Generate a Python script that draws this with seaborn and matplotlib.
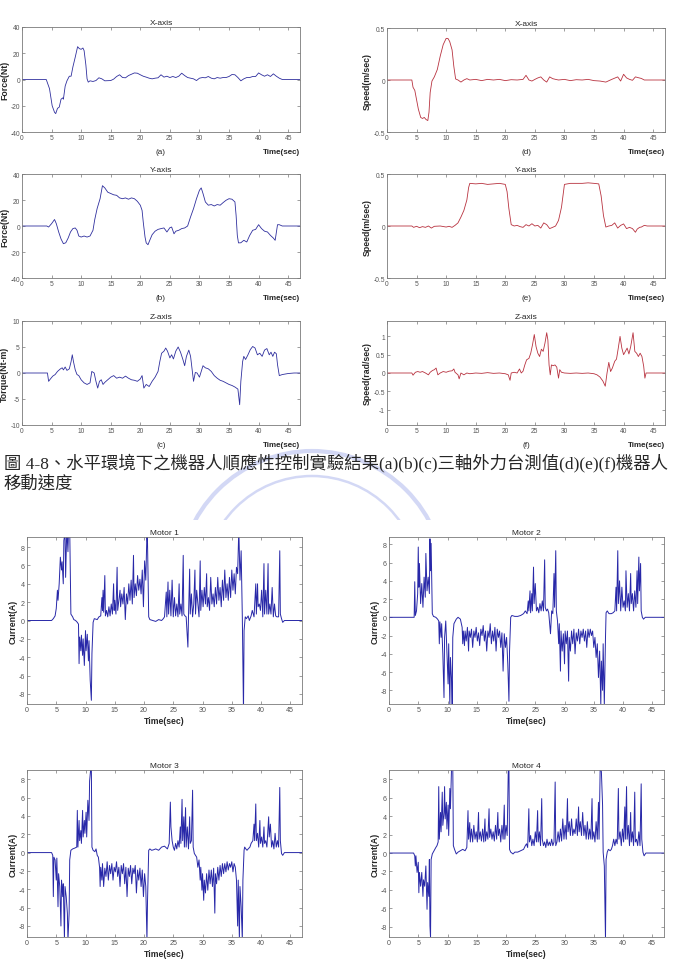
import pandas as pd
import seaborn as sns
import matplotlib.pyplot as plt
from matplotlib.patches import Circle, Rectangle

# ---- values: (time sec, value) ----
force_x = [(0,0),(4.1,0),(4.65,-7),(5.1,-20),(5.5,-25),(5.7,-26),(6.0,-22),(6.3,-21),(6.6,-15),(6.9,-14),(7.0,-15),
           (7.3,-5),(7.6,-1),(8.0,2.5),(8.3,2.5),(8.6,9.5),(9.0,17),(9.4,25),(9.7,23.5),(10.0,23),(10.3,24),(10.5,22),
           (10.8,11),(11.0,0.5),(11.2,-2),(11.5,-1),(12,-1.5),(12.5,-0.8),(13,1.3),(13.5,0.5),(14,-1),(15,-0.8),
           (15.5,0.3),(16,2.3),(16.5,3.6),(17,1.5),(17.5,1.3),(18,3),(18.5,4),(19,5),(19.5,4.8),(20,3.6),(20.5,2.5),
           (21,1.8),(21.5,1),(22,0.5),(22.5,1),(23,1.3),(23.5,3.6),(24,1.8),(24.5,2.5),(25,1.5),(25.5,2.3),(26,1.5),
           (26.5,2.5),(27,4.8),(27.5,3),(28,1.5),(28.5,1),(29,0.5),(29.5,-0.8),(30,1),(30.5,1.5),(31,1.3),(31.5,2.3),
           (32,1),(32.5,0.5),(33,1.5),(33.5,1),(34,1.5),(34.5,1.5),(35,2.3),(35.5,3.8),(36,3.6),(36.5,1.5),(37,-1),
           (37.5,0.5),(38,1.5),(38.5,1.5),(39,2.3),(39.5,2.3),(40,5),(40.5,3.6),(41,2.5),(41.5,3.6),(42,2.3),(42.5,4.3),
           (43,2.5),(43.5,1),(44,0),(47,0)]
force_y = [(0,0),(4.2,0),(4.5,-0.8),(5.0,1.8),(5.5,5),(5.8,1.8),(6.2,-4.6),(6.6,-10),(7.0,-13.6),(7.4,-12.9),(7.8,-9.3),
           (8.2,-4.6),(8.6,-2),(9.0,-1.5),(9.3,-3.3),(9.6,-7.7),(10,-8.5),(10.5,-7.7),(11,-8.5),(11.5,-7.7),(12,-3.3),
           (12.3,5),(12.7,13.4),(13.2,21),(13.6,31),(14,29.3),(14.5,26),(15,25),(15.5,24),(16,23.6),(16.5,21.6),(17,21),
           (17.5,21.6),(18,20.6),(18.5,21.6),(19,21),(19.5,19),(20,16),(20.3,12),(20.5,3),(20.8,-8.5),(21,-13),
           (21.3,-14.4),(21.6,-11),(22,-6.7),(22.5,-4),(23,-2.6),(23.5,-2),(24,-1.5),(24.5,-4.6),(25,-1.3),(25.3,-0.8),
           (25.7,-6),(26,-4),(26.5,-3.3),(27,-2),(27.5,-1.5),(28,0),(28.5,7),(29,13.4),(29.5,21),(30,27.5),(30.3,29.3),
           (30.6,25),(31,18.5),(31.5,16),(32,16.5),(32.5,15.4),(33,16.5),(33.5,16),(34,18),(34.5,19.8),(35,21),
           (35.5,20.6),(36,18.5),(36.2,8),(36.4,-7.2),(36.6,-13),(37,-12.9),(37.5,-11),(38,-12.3),(38.5,-7.2),(39,-3.3),
           (39.5,-2.6),(40,1),(40.5,-2),(41,-4),(41.5,-4.6),(42,-7.2),(42.5,-9.3),(42.8,-11),(43.2,1),(43.5,1),(44,0),(47,0)]
torque_z = [(0,0),(4.3,0),(4.5,-1.6),(4.8,-1.15),(5.2,-0.6),(5.6,-0.3),(6,0.3),(6.5,0.8),(6.8,1),(7,0.6),(7.3,1.15),
            (7.6,0.5),(8,0.8),(8.3,2.2),(8.5,3.5),(8.7,2.2),(9,0.6),(9.3,-0.3),(9.6,-0.5),(10,-1.3),(10.5,-1.9),(11,-2.2),
            (11.5,-1.9),(11.8,0.3),(12.2,0),(12.5,-1.6),(12.8,-2.9),(13.1,-1.6),(13.4,-1.3),(13.7,-2.2),(14,-1.8),
            (14.5,-1.3),(15,-0.8),(15.5,-0.5),(16,-1),(16.5,-0.8),(17,-1),(17.5,-0.6),(18,-1),(18.5,-1.3),(19,-1.4),
            (19.5,-1.6),(20,-1.15),(20.3,-0.5),(20.6,-2.9),(21,-2.2),(21.5,-2.6),(22,-1.6),(22.5,-0.8),(23,0.3),
            (23.3,2.2),(23.6,3.8),(24,4.2),(24.3,4.8),(24.6,4.2),(25,2.9),(25.3,3.5),(25.6,2.7),(26,4.2),(26.4,5),
            (26.8,4),(27.2,2.6),(27.5,1.4),(27.8,3.2),(28.2,4.4),(28.5,3.2),(28.8,0.3),(29,-1.6),(29.3,0.1),(29.6,0),
            (30,-0.8),(30.3,0.3),(30.6,1.4),(31,1),(31.5,0.8),(32,0.3),(32.5,-0.5),(33,-1),(33.5,-1.4),(34,-1.6),
            (34.5,-1.9),(35,-2.2),(35.5,-2.4),(36,-2.7),(36.5,-3.1),(36.8,-6.1),(37,-1.6),(37.3,2.2),(37.5,3.2),
            (37.8,2.6),(38.2,3.5),(38.6,4.5),(39,5.1),(39.4,4.8),(39.8,3.5),(40.2,3.8),(40.6,3.2),(41,4.4),(41.4,4.7),
            (41.8,3.5),(42.1,4),(42.4,3.2),(42.7,4),(43,3.7),(43.2,1.6),(43.5,-0.5),(44,-0.3),(45,-0.1),(46,0),(47,0)]
speed_x = [(0,0),(4.2,0),(4.4,-0.07),(4.7,-0.1),(5.0,-0.19),(5.3,-0.28),(5.7,-0.36),(6.0,-0.37),(6.3,-0.36),
           (6.6,-0.38),(6.9,-0.39),(7.1,-0.31),(7.3,-0.12),(7.6,-0.01),(8.0,0.03),(8.5,0.1),(9.0,0.23),(9.5,0.34),
           (10,0.4),(10.3,0.4),(10.6,0.37),(11.0,0.29),(11.3,0.13),(11.6,0.01),(12,0),(12.5,-0.02),(13,0),(13.5,0.013),
           (14,0),(15,0.006),(16,-0.006),(17,0.006),(18,0),(19,0.006),(20,-0.006),(21,0.003),(22,0),(23,0.006),
           (23.5,0.045),(24,0),(24.5,-0.01),(25,0.006),(25.5,0.02),(26,0.03),(26.5,0),(27,-0.02),(27.5,0.03),
           (28,0.013),(28.5,0.006),(29,0),(30,0.006),(31,-0.006),(32,0.003),(33,0),(34,0.006),(35,-0.006),(36,-0.01),
           (37,-0.02),(38,0.006),(39,0.03),(39.5,-0.01),(40,0.055),(40.5,0.02),(41,0.006),(41.5,-0.003),(42,0.03),
           (42.5,0.022),(43,0.015),(43.5,0),(47,0)]
speed_y = [(0,0),(4.2,0),(4.5,-0.013),(5,-0.003),(5.5,-0.016),(6,-0.006),(6.5,-0.013),(7,0),(7.5,-0.02),(8,-0.003),
           (9,0),(10,-0.01),(10.5,-0.003),(11,-0.013),(11.5,0.006),(12,0.03),(12.5,0.086),(13,0.15),(13.5,0.25),
           (13.8,0.37),(14,0.41),(15,0.405),(16,0.41),(17,0.4),(18,0.405),(19,0.41),(20,0.4),(20.3,0.33),(20.6,0.17),
           (21,0.013),(21.5,0),(22,0.006),(22.5,-0.006),(23,-0.013),(23.5,0.013),(24,0),(24.5,0.022),(25,0),
           (25.5,0.006),(26,-0.02),(26.5,0.03),(27,0.013),(27.5,-0.025),(28,-0.013),(28.5,0),(29,0.054),(29.5,0.18),
           (30,0.4),(31,0.41),(32,0.41),(33,0.41),(34,0.415),(35,0.41),(35.8,0.405),(36.2,0.29),(36.6,0.1),(37,-0.01),
           (37.5,0),(38,0.006),(38.5,0.03),(39,-0.02),(39.5,0.006),(40,0.02),(40.5,-0.025),(41,-0.013),(41.5,-0.025),
           (42,-0.06),(42.3,-0.03),(42.7,-0.013),(43,-0.01),(43.5,0.006),(44,0),(47,0)]
speed_z = [(0,0),(4.2,0),(4.4,-0.06),(4.8,0.02),(5.2,0.04),(5.6,0.02),(6,0.04),(6.5,0),(7,-0.05),(7.3,0.02),(7.7,0.07),
           (8,0.09),(8.3,0.135),(8.6,-0.05),(9,0),(9.5,0.04),(10,0.02),(10.5,0.05),(11,0.06),(11.3,0.11),(11.5,0.02),
           (12,-0.05),(12.2,-0.16),(12.5,0),(13,-0.05),(13.5,0),(14,-0.02),(15,0),(16,-0.01),(17,0.01),(18,-0.01),
           (19,0),(20,-0.02),(20.5,-0.05),(20.8,-0.2),(21,0),(21.5,0.02),(22,0),(22.4,0.11),(22.7,0),(23,0.05),
           (23.3,0.22),(23.6,0.36),(24,0.4),(24.3,0.54),(24.6,0.77),(24.9,1.05),(25.2,0.72),(25.5,0.54),(25.8,0.45),
           (26.1,0.65),(26.4,0.59),(26.7,0.81),(27,1.1),(27.2,0.9),(27.4,0.22),(27.6,-0.05),(27.8,0.22),(28.1,0.2),
           (28.4,0.22),(28.7,0.16),(29,-0.14),(29.2,0.09),(29.5,0.02),(30,0),(31,-0.01),(32,0),(33,-0.01),(34,0),
           (35,-0.02),(35.5,-0.05),(36,-0.11),(36.5,-0.22),(36.9,-0.36),(37.2,0),(37.5,0.29),(37.8,0.04),(38.1,0.135),
           (38.5,0.32),(38.8,0.38),(39.1,0.68),(39.4,1.0),(39.7,0.68),(40,0.5),(40.3,0.59),(40.6,0.68),(40.9,0.52),
           (41.2,0.72),(41.6,1.1),(41.9,0.59),(42.2,0.54),(42.5,0.45),(42.8,0.54),(43.1,0.45),(43.4,0.18),(43.6,-0.14),
           (43.8,0),(47,0)]
motor1 = [(0,0),(4.2,0),(4.5,0.2),(4.8,0.5),(5.0,1.3),(5.2,3.3),(5.3,2.2),(5.5,4),(5.7,6.9),(5.9,5.5),(6.0,6.4),(6.2,4),
          (6.3,8.7),(6.5,9.6),(6.6,4.7),(6.8,10),(7.0,7.5),(7.1,10),(7.3,10),(7.5,0.7),(7.8,0.4),(8.0,0.1),(8.3,0),
          (8.6,-0.2),(8.8,-0.4),(8.9,-4.7),(9.0,-1.8),(9.2,-3.3),(9.3,-1.6),(9.5,-3.8),(9.6,-2),(9.8,-4.9),(10.0,-1.1),
          (10.1,-3.3),(10.3,-1.5),(10.5,-4.4),(10.6,-2.2),(10.8,-6.5),(10.9,-7.6),(11.0,-8.7),(11.1,-3.6),(11.3,-0.2),
          (11.5,0.2),(12,0.1),(12.3,0.4),(12.6,0.5),(12.8,2.5),(12.9,1.1),(13.0,3.3),(13.1,0.9),(13.3,4.9),(13.4,0.5),
          (13.6,1.1),(13.8,0.4),(14.0,1.5),(14.2,0.5),(14.4,1.8),(14.6,0.7),(14.8,4),(14.9,1.1),(15.0,2.2),(15.2,0.7),
          (15.4,5.8),(15.5,1.1),(15.7,2.2),(15.9,3.3),(16.0,1.5),(16.2,2.9),(16.4,1.8),(16.6,3.6),(16.8,0.1),(17.0,2.9),
          (17.2,1.8),(17.4,4),(17.6,2.2),(17.8,4.4),(18.0,1.8),(18.2,7.1),(18.3,2.5),(18.5,4),(18.7,2.7),(18.9,4.9),
          (19.1,3.3),(19.3,4.5),(19.5,2.9),(19.7,5.5),(19.9,1.5),(20.1,6.5),(20.3,4.4),(20.5,9.5),(20.6,8.4),(20.8,0.4),
          (21,0.1),(21.5,0),(22,-0.1),(22.5,0.1),(23,0),(23.3,0.2),(23.5,0.4),(23.8,3.1),(23.9,0.4),(24.1,4.2),(24.2,0.7),
          (24.4,3.3),(24.6,0.5),(24.8,4.4),(25.0,0.4),(25.2,2.5),(25.4,0.5),(25.6,1.8),(25.8,0.4),(26.0,4),(26.1,0.7),
          (26.3,1.8),(26.5,0.5),(26.7,7.1),(26.8,0.7),(27,0.5),(27.2,0.4),(27.5,-2.9),(27.6,0.4),(27.8,5.6),(27.9,0.7),
          (28.1,2.9),(28.3,0.4),(28.5,1.8),(28.7,5.5),(28.8,0.7),(29.0,3.3),(29.2,1.8),(29.4,0.4),(29.6,6.5),(29.7,1.1),
          (29.9,3.3),(30.1,1.5),(30.3,3.6),(30.5,1.8),(30.7,5.1),(30.8,1.5),(31,2.5),(31.2,1.1),(31.4,4.7),(31.6,1.8),
          (31.8,2.9),(32,1.5),(32.2,3.6),(32.4,1.8),(32.6,4.7),(32.8,2.2),(33,3.6),(33.2,1.5),(33.4,4.4),(33.6,2.2),
          (33.8,5.5),(34,2.5),(34.2,4),(34.4,2.2),(34.6,4.7),(34.8,2.5),(35,5.5),(35.2,3.3),(35.4,5.1),(35.6,2.9),
          (35.8,5.8),(36,5.1),(36.2,10),(36.4,4.4),(36.6,7.6),(36.8,0.4),(37.0,-10),(37.1,-1.1),(37.3,0.4),(37.5,0.2),
          (37.8,0.5),(38,0),(38.3,0.5),(38.5,1.1),(38.8,0.4),(39.1,4),(39.2,0.7),(39.4,4),(39.5,1.5),(39.7,1.8),
          (39.9,1.1),(40.1,3.3),(40.3,0.4),(40.5,6.2),(40.6,0.7),(40.8,3.3),(41,0.7),(41.2,6.2),(41.3,0.7),(41.5,1.8),
          (41.7,0.7),(41.9,3.6),(42.1,0.4),(42.3,1.8),(42.5,0.5),(42.7,0.4),(43.0,0.4),(43.2,7.6),(43.3,0.7),(43.5,0.2),
          (43.7,-0.2),(44,0),(47,0)]
motor2 = [(0,0),(4.3,0),(4.4,3.9),(4.5,0.2),(4.7,0.7),(4.9,2.6),(5.0,7.7),(5.1,3.3),(5.2,5.9),(5.4,1.5),(5.6,3.7),
          (5.8,1.1),(6.0,4.4),(6.2,2.2),(6.3,7),(6.5,2.9),(6.7,4.4),(6.9,2.6),(7.0,8.6),(7.1,5.1),(7.2,8.1),(7.4,0.4),
          (7.6,0.1),(8,0),(8.3,-0.2),(8.5,-0.4),(8.6,-2.9),(8.7,-0.5),(8.9,-2.2),(9.0,-0.7),(9.2,-4),(9.4,-8.8),
          (9.5,-2.2),(9.7,-0.4),(9.9,-3.7),(10.1,-7.3),(10.2,-2.9),(10.4,-9.6),(10.5,-4.4),(10.7,-7),(10.8,-9.6),
          (10.9,-2.2),(11.1,-0.7),(11.5,-0.2),(11.8,0),(12.2,-0.2),(12.5,-1.1),(12.6,-2.9),(12.7,-1.5),(12.9,-3.1),
          (13.0,-1.5),(13.2,-2.6),(13.4,-1.1),(13.6,-3.7),(13.7,-1.5),(13.9,-2.2),(14.1,-1.3),(14.3,-3.3),(14.5,-1.5),
          (14.7,-2.2),(14.9,-1.1),(15.1,-2.6),(15.3,-1.7),(15.5,-3.1),(15.7,-1.3),(15.9,-2),(16.1,-0.9),(16.3,-2.6),
          (16.5,-1.5),(16.7,-3.7),(16.9,-1.5),(17.1,-2.2),(17.3,-0.7),(17.5,-2.9),(17.7,-1.5),(17.9,-2.6),(18.1,-1.1),
          (18.3,-3.7),(18.5,-1.3),(18.7,-2.2),(18.9,-1.5),(19.1,-3.3),(19.3,-1.7),(19.5,-5.9),(19.7,-1.8),(19.9,-3.3),
          (20.1,-2.2),(20.3,-5.1),(20.5,-9.2),(20.6,-3.7),(20.8,0),(21,0.2),(21.5,0.1),(22,0.1),(22.5,0.2),(23,0.4),
          (23.3,0.7),(23.6,0.4),(23.8,1.8),(23.9,0.7),(24.1,2.9),(24.2,0.5),(24.4,2.6),(24.5,0.7),(24.7,5.5),(24.8,1.5),
          (25.0,3.7),(25.2,0.7),(25.4,1.1),(25.6,0.5),(25.8,1.5),(26.0,0.7),(26.2,1.8),(26.4,0.7),(26.6,6.3),(26.7,1.1),
          (26.9,0.7),(27.1,0.9),(27.3,0.5),(27.6,-1.8),(27.8,0.7),(28.0,0.4),(28.2,4.8),(28.3,1.1),(28.5,7.3),(28.6,0.7),
          (28.8,-0.4),(29.0,-2.9),(29.1,-0.7),(29.3,-5.9),(29.4,-1.5),(29.6,-3.7),(29.8,-1.8),(30.0,-5.1),(30.1,-1.5),
          (30.3,-2.9),(30.5,-1.5),(30.7,-7),(30.8,-2.2),(31.0,-3.7),(31.2,-1.5),(31.4,-2.9),(31.6,-1.3),(31.8,-4),
          (32.0,-1.7),(32.2,-2.6),(32.4,-1.3),(32.6,-2.9),(32.8,-1.5),(33.0,-2.2),(33.2,-1.3),(33.4,-2.6),(33.6,-1.5),
          (33.8,-3.3),(34.0,-1.3),(34.2,-2.2),(34.4,-1.3),(34.6,-2),(34.8,-1.5),(35.0,-3.3),(35.2,-2.2),(35.4,-4.4),
          (35.6,-2.9),(35.8,-6.6),(36.0,-3.7),(36.2,-9.6),(36.3,-4.8),(36.5,-8),(36.6,-2.9),(36.8,-9.6),(37.0,-2.2),
          (37.1,0.5),(37.3,0.7),(37.6,0.4),(38,0.4),(38.3,0.5),(38.6,0.7),(38.8,3.3),(38.9,0.7),(39.1,7.3),(39.2,1.5),
          (39.4,4),(39.6,0.7),(39.8,3.3),(40.0,1.1),(40.2,1.8),(40.4,0.7),(40.5,5.1),(40.7,1.1),(40.9,2.6),(41.1,0.7),
          (41.3,4.8),(41.4,1.5),(41.6,2.6),(41.8,0.7),(42.0,2.9),(42.2,1.1),(42.4,5.1),(42.5,1.5),(42.7,6.6),(42.8,2.9),
          (43.0,5.9),(43.1,0.7),(43.3,0),(43.5,-0.2),(43.8,0),(47,0)]
motor3 = [(0,0),(4.2,0),(4.4,-0.3),(4.5,-4.8),(4.6,-0.5),(4.8,-0.8),(5.0,-3),(5.1,-0.6),(5.3,-5.9),(5.4,-2.3),(5.6,-3.7),
          (5.8,-8),(5.9,-3),(6.1,-4.8),(6.2,-3.4),(6.4,-9.5),(6.5,-3.7),(6.7,-4.8),(6.9,-6.6),(7.0,-9.5),(7.2,-6.6),
          (7.3,-0.8),(7.5,0.25),(7.8,0.4),(8.2,0.5),(8.5,0.6),(8.6,4.6),(8.7,0.6),(8.9,3.5),(9.0,1.3),(9.2,2.4),(9.3,1),
          (9.5,4.6),(9.6,1.7),(9.8,3.5),(9.9,2.1),(10.1,4.4),(10.2,1.7),(10.4,5.7),(10.6,3.5),(10.7,7.8),(10.9,9.2),
          (11.0,9.2),(11.1,0.6),(11.3,0.25),(11.6,0.1),(11.8,0.4),(12.0,-0.3),(12.2,-0.5),(12.4,-1.6),(12.5,-3.7),
          (12.6,-1.6),(12.8,-3),(12.9,-1.2),(13.1,-3.7),(13.3,-1.7),(13.5,-2.6),(13.7,-1),(13.9,-3),(14.1,-1.4),
          (14.3,-2.3),(14.5,-1.2),(14.7,-3),(14.9,-1.6),(15.1,-2.1),(15.3,-1),(15.5,-2.6),(15.7,-1.6),(15.9,-3.7),
          (16.1,-1.4),(16.3,-2.3),(16.5,-1.2),(16.7,-3.4),(16.9,-1.6),(17.1,-4.8),(17.3,-1.7),(17.5,-2.6),(17.7,-1.4),
          (17.9,-3.4),(18.1,-1.7),(18.3,-2.3),(18.5,-1.4),(18.7,-4.4),(18.9,-1.9),(19.1,-3),(19.3,-1.7),(19.5,-3.7),
          (19.7,-1.9),(19.9,-4.8),(20.1,-2.3),(20.3,-3.7),(20.5,-9.5),(20.6,-5.2),(20.8,0.25),(21.0,0.4),(21.3,0.25),
          (21.6,0.3),(22,0.4),(22.5,0.25),(23,0.6),(23.5,0.7),(24,0.4),(24.3,1),(24.5,5.5),(24.6,2.8),(24.8,1.3),
          (25.0,0.6),(25.2,0.25),(25.4,1),(25.6,0.4),(25.8,1.3),(26.0,0.6),(26.2,2.8),(26.3,1),(26.5,5.8),(26.6,1.3),
          (26.8,3.9),(26.9,0.6),(27.1,4.9),(27.2,0.6),(27.4,2.8),(27.6,0.4),(27.8,3.9),(27.9,1),(28.1,1.3),(28.3,6.8),
          (28.4,0.6),(28.6,-0.1),(28.8,-0.3),(29.0,-0.5),(29.2,-1.6),(29.4,-0.8),(29.6,-3),(29.7,-1.6),(29.9,-4.1),
          (30.0,-2.3),(30.2,-5.2),(30.3,-3),(30.5,-4.4),(30.7,-2.3),(30.9,-4.1),(31.1,-1.9),(31.3,-3.4),(31.5,-1.9),
          (31.7,-3.7),(31.9,-1.7),(32.1,-6.6),(32.2,-2.3),(32.4,-3.4),(32.6,-1.6),(32.8,-3),(33.0,-1.4),(33.2,-2.6),
          (33.4,-1.2),(33.6,-2.3),(33.8,-1.2),(34.0,-2.1),(34.2,-1),(34.4,-1.9),(34.6,-1.2),(34.8,-1.6),(35.0,-1),
          (35.2,-2.1),(35.4,-1.2),(35.6,-1.6),(35.8,-3),(36.0,-8),(36.1,-3),(36.3,-9.5),(36.4,-3.7),(36.6,-5.9),
          (36.8,-9.5),(36.9,-3),(37.1,0.25),(37.2,0.6),(37.4,0.4),(37.6,0.25),(37.8,0.4),(38.1,0.6),(38.3,1),(38.6,1.3),
          (38.8,3.1),(38.9,1.3),(39.1,5.3),(39.2,1.3),(39.4,2.1),(39.6,0.6),(39.8,3.5),(39.9,1),(40.1,1.7),(40.3,0.6),
          (40.5,2.8),(40.6,1),(40.8,1.3),(41.0,0.6),(41.3,3.9),(41.4,1.7),(41.6,3.1),(41.8,0.6),(42.0,1.3),(42.2,0.4),
          (42.4,2.1),(42.6,0.6),(42.8,1.3),(43.0,0.6),(43.2,7.1),(43.3,1.3),(43.5,-0.1),(43.7,-0.3),(44.0,0),(47,0)]
motor4 = [(0,0),(4.2,0),(4.4,-0.3),(4.5,-1.4),(4.6,-0.3),(4.8,-2.1),(5.0,-1),(5.1,-4.3),(5.2,-2.1),(5.4,-3.6),(5.6,-2.1),
          (5.8,-4.7),(5.9,-2.9),(6.1,-3.6),(6.3,-1.4),(6.5,-6.1),(6.6,-3.2),(6.8,-4.7),(6.9,-0.7),(7.0,-7.9),(7.1,-9.2),
          (7.2,-0.7),(7.4,-0.1),(7.7,0.25),(8.0,0.6),(8.2,0.8),(8.4,1.2),(8.5,7.2),(8.6,1.5),(8.8,4.4),(8.9,2.3),(9.1,6.6),
          (9.2,3),(9.4,4.4),(9.5,7.2),(9.6,3.7),(9.8,5.5),(9.9,2.6),(10.1,5.2),(10.2,1.9),(10.4,7),(10.5,4.8),(10.7,9.5),
          (10.9,9.5),(11.0,0.8),(11.2,0.4),(11.5,-0.1),(11.8,0.1),(12.2,0.25),(12.6,0.4),(13.0,0.25),(13.3,0.6),
          (13.5,4.6),(13.6,1.5),(13.8,3.3),(13.9,1.2),(14.1,2.6),(14.3,1.2),(14.5,3),(14.7,1.5),(14.9,2.3),(15.1,1.2),
          (15.3,4.4),(15.4,1.5),(15.6,2.3),(15.8,1.3),(16.0,2.6),(16.2,1.2),(16.4,3.7),(16.5,1.3),(16.7,2.3),(16.9,1.5),
          (17.1,4.8),(17.2,1.7),(17.4,2.6),(17.6,1.5),(17.8,2.3),(18.0,1.3),(18.2,3),(18.4,1.5),(18.6,4.4),(18.7,1.9),
          (18.9,2.6),(19.1,1.2),(19.3,3),(19.5,1.5),(19.7,5.2),(19.8,1.5),(20.0,3),(20.2,1.9),(20.4,9.5),(20.5,9.5),
          (20.6,0.4),(20.8,0.1),(21.2,-0.1),(21.5,0.1),(22,0.1),(22.5,0.25),(23,0.4),(23.3,0.8),(23.5,1),(23.7,0.6),
          (23.9,4.8),(24.0,1.2),(24.2,1.9),(24.4,0.8),(24.6,1.5),(24.8,0.8),(25.0,2.3),(25.2,1.2),(25.4,4.6),(25.5,1.2),
          (25.7,2.3),(25.9,0.8),(26.1,5.9),(26.2,1.5),(26.4,0.8),(26.6,1.2),(26.8,0.6),(27.0,1.5),(27.2,0.8),(27.4,1.2),
          (27.6,0.8),(27.8,1.5),(28.0,0.8),(28.2,1.2),(28.4,7.7),(28.5,0.8),(28.7,1.2),(28.9,2.3),(29.1,1.2),(29.3,2.6),
          (29.5,1.3),(29.7,3.7),(29.9,1.5),(30.1,3),(30.3,1.5),(30.5,5.9),(30.6,2.3),(30.8,3.4),(31.0,1.9),(31.2,3.7),
          (31.4,1.9),(31.6,2.6),(31.8,2.1),(32.0,3.7),(32.2,1.9),(32.4,5),(32.5,2.3),(32.7,3.4),(32.9,1.9),(33.1,4.4),
          (33.3,1.9),(33.5,3),(33.7,1.5),(33.9,3.4),(34.1,1.5),(34.3,2.6),(34.5,1.5),(34.7,5.9),(34.8,1.5),(35.0,2.3),
          (35.2,1.2),(35.4,3.4),(35.6,1.5),(35.8,5.5),(35.9,1.5),(36.1,9.5),(36.3,8.8),(36.5,5.2),(36.6,0.1),(36.8,-1.4),
          (37.0,-9.4),(37.1,-0.7),(37.3,0.1),(37.5,0.4),(37.8,0.25),(38,0.4),(38.2,0.8),(38.4,1.5),(38.6,0.8),(38.8,1.5),
          (39.0,1),(39.2,7),(39.3,1.5),(39.5,2.3),(39.7,0.8),(39.9,2.6),(40.1,1.2),(40.3,5),(40.4,1.5),(40.6,7.2),
          (40.7,1.5),(40.9,3),(41.1,0.8),(41.3,4.4),(41.4,1.2),(41.6,2.3),(41.8,0.8),(42.0,6.6),(42.1,1.2),(42.3,1.5),
          (42.5,0.8),(42.7,2.3),(42.9,0.8),(43.1,7.5),(43.2,1.5),(43.4,0.1),(43.6,-0.3),(43.9,0),(47,0)]

time_ticks = [0, 5, 10, 15, 20, 25, 30, 35, 40, 45]
force_ticks = [-40, -20, 0, 20, 40]
speed_ticks = [-0.5, 0, 0.5]
torque_ticks = [-10, -5, 0, 5, 10]
rot_ticks = [-1, -0.5, 0, 0.5, 1]
current_ticks = [-8, -6, -4, -2, 0, 2, 4, 6, 8]

caption1 = '圖 4-8、水平環境下之機器人順應性控制實驗結果(a)(b)(c)三軸外力台測值(d)(e)(f)機器人'
caption2 = '移動速度'

sns.set_style('white')
sns.set_style('ticks')
plt.rcParams['font.family'] = ['Liberation Sans', 'Noto Sans CJK TC']
plt.rcParams['axes.unicode_minus'] = False

blue = '#2f2f9e'
red = '#b8323f'
mblue = '#2828a8'

fig = plt.figure(figsize=(6.75, 9.78), dpi=100)

# faint school-logo watermark behind the caption (cut off by the motor plots)
clip = Rectangle((0, (978 - 521) / 100.), 6.75, 1.2, transform=fig.dpi_scale_trans, visible=False)
fig.add_artist(clip)
for rad, lw in [(1.33, 3.0), (1.08, 1.8)]:
    ring = Circle((3.12, (978 - 585) / 100.), rad, transform=fig.dpi_scale_trans,
                  fill=False, ec='#d3d8f5', lw=lw, zorder=0)
    fig.add_artist(ring)
    ring.set_clip_path(clip)


def box(l, t, r, b):
    return [l / 675., 1 - b / 978., (r - l) / 675., (b - t) / 978.]


def panel(rect, pts, color, ylim, yticks, title, ylabel, tag=None, xlab=False, fs=4.8, lw=0.6):
    ax = fig.add_axes(box(*rect))
    df = pd.DataFrame(pts, columns=['t', 'v'])
    sns.lineplot(data=df, x='t', y='v', ax=ax, color=color, lw=lw, sort=False, estimator=None)
    ax.set_xlim(0, 47)
    ax.set_ylim(*ylim)
    ax.set_xticks(time_ticks)
    ax.set_xticklabels(['%g' % v for v in time_ticks])
    ax.set_yticks(yticks)
    ax.set_yticklabels(['%g' % v for v in yticks])
    ax.tick_params(direction='in', top=True, right=True, length=2.5, width=0.5, pad=1.5,
                   color='#777777', labelcolor='#555555', labelsize=fs)
    for s in ax.spines.values():
        s.set_color('#7a7a7a')
        s.set_linewidth(0.6)
    ax.set_title(title, fontsize=6, pad=2.5)
    ax.set_ylabel(ylabel, fontsize=6.3, fontweight='bold', labelpad=1)
    if xlab:
        ax.set_xlabel('Time(sec)', fontsize=6.2, fontweight='bold', labelpad=2)
    else:
        ax.set_xlabel('')
    if tag is not None:
        ax.text(0.5, -0.19, tag, transform=ax.transAxes, ha='center', va='center', fontsize=5.8)
        ax.text(1.0, -0.19, 'Time(sec)', transform=ax.transAxes, ha='right', va='center',
                fontsize=5.8, fontweight='bold')
    return ax


panel((22, 28, 300, 133), force_x, blue, (-40, 40), force_ticks, 'X-axis', 'Force(Nt)', '(a)')
panel((22, 175, 300, 279), force_y, blue, (-40, 40), force_ticks, 'Y-axis', 'Force(Nt)', '(b)')
panel((22, 322, 300, 426), torque_z, blue, (-10, 10), torque_ticks, 'Z-axis', 'Torque(Nt-m)', '(c)')
panel((387, 29, 665, 133), speed_x, red, (-0.5, 0.5), speed_ticks, 'X-axis', 'Speed(m/sec)', '(d)')
panel((387, 175, 665, 279), speed_y, red, (-0.5, 0.5), speed_ticks, 'Y-axis', 'Speed(m/sec)', '(e)')
panel((387, 322, 665, 426), speed_z, red, (-1.42, 1.42), rot_ticks, 'Z-axis', 'Speed(rad/sec)', '(f)')

panel((27, 538, 302, 705), motor1, mblue, (-9.1, 9.1), current_ticks, 'Motor 1', 'Current(A)', xlab=True, fs=5.1, lw=0.7)
panel((389, 538, 664, 705), motor2, mblue, (-9.5, 8.8), current_ticks, 'Motor 2', 'Current(A)', xlab=True, fs=5.1, lw=0.7)
panel((27, 771, 302, 938), motor3, mblue, (-9.2, 9.0), current_ticks, 'Motor 3', 'Current(A)', xlab=True, fs=5.1, lw=0.7)
panel((389, 771, 664, 938), motor4, mblue, (-9.1, 9.0), current_ticks, 'Motor 4', 'Current(A)', xlab=True, fs=5.1, lw=0.7)

cap_font = ['Liberation Serif', 'Noto Sans CJK TC']
fig.text(4 / 675., 1 - 463 / 978., caption1, fontsize=12.5, family=cap_font, va='center', ha='left')
fig.text(4 / 675., 1 - 484 / 978., caption2, fontsize=12.5, family=cap_font, va='center', ha='left')

fig.savefig('out.png', dpi=100)
